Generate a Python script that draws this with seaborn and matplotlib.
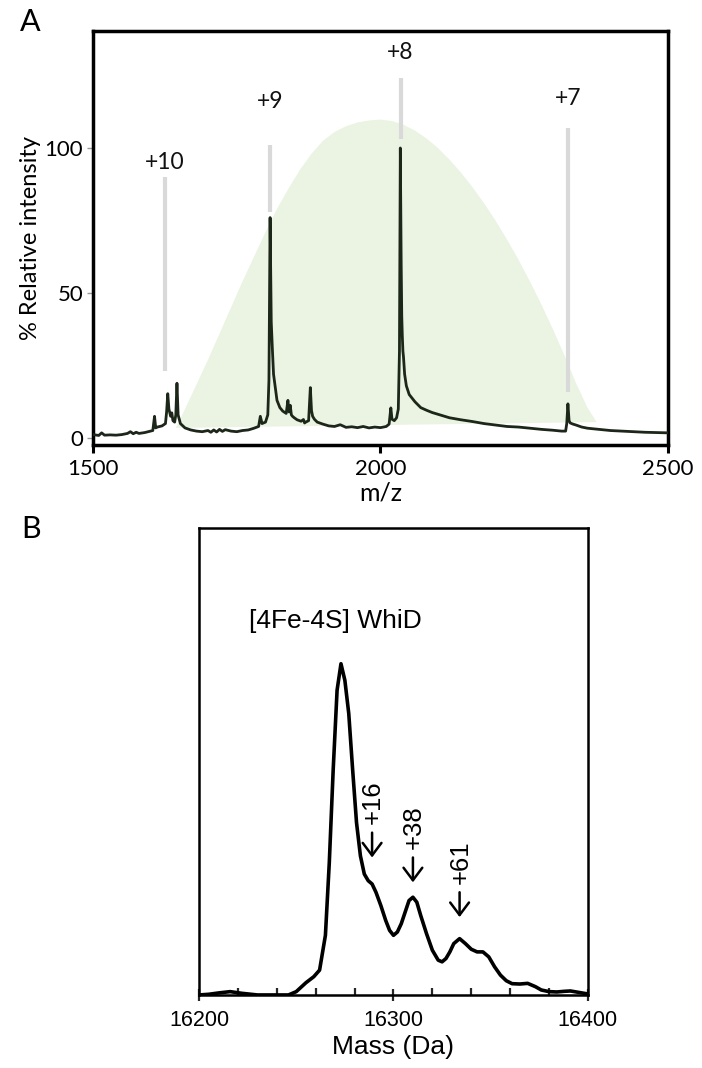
import numpy as np
import pandas as pd
import matplotlib
matplotlib.use("Agg")
import matplotlib.pyplot as plt
import seaborn as sns

# ---------------- Panel A data ----------------
mz = [1500, 1510, 1515, 1520, 1530, 1540, 1550, 1560, 1565, 1570, 1575, 1580, 1590, 1600, 1604,
      1607, 1609, 1612, 1620, 1626, 1628, 1630, 1632, 1635, 1637, 1639, 1642, 1644, 1646, 1648,
      1652, 1660, 1670, 1680, 1690, 1700, 1705, 1710, 1715, 1720, 1725, 1730, 1740, 1750, 1760,
      1770, 1780, 1788, 1791, 1794, 1800, 1804, 1806, 1808, 1810, 1812, 1814, 1816, 1820, 1825,
      1830, 1836, 1839, 1841, 1843, 1845, 1847, 1850, 1855, 1862, 1866, 1868, 1870, 1875, 1878,
      1880, 1882, 1885, 1890, 1900, 1910, 1920, 1930, 1940, 1950, 1960, 1970, 1980, 1990, 2000,
      2010, 2015, 2018, 2020, 2024, 2028, 2031, 2033, 2034.5, 2036, 2037, 2038, 2039, 2040, 2042,
      2045, 2050, 2060, 2070, 2080, 2090, 2100, 2110, 2120, 2140, 2160, 2180, 2200, 2220, 2240,
      2260, 2280, 2300, 2315, 2322, 2324, 2326, 2328, 2330, 2335, 2340, 2350, 2360, 2380, 2400,
      2430, 2460, 2500]
intensity = [1.2, 0.9, 1.8, 1.0, 1.1, 1.0, 1.2, 1.6, 2.2, 1.5, 2.0, 1.6, 1.9, 2.4, 2.6,
             7.5, 3.5, 3.8, 4.2, 5.0, 9.0, 15.3, 10.0, 7.5, 8.7, 6.0, 5.5, 8.0, 18.9, 8.0,
             5.0, 3.5, 2.8, 2.4, 2.2, 2.6, 2.0, 2.8, 2.1, 3.0, 2.3, 2.9, 2.4, 2.2, 2.6,
             2.8, 3.4, 4.0, 7.5, 5.0, 5.5, 8.0, 20.0, 76.0, 40.0, 30.5, 22.0, 19.0, 13.0, 10.5,
             9.3, 8.5, 13.0, 9.0, 11.3, 8.0, 7.5, 7.0, 6.3, 5.8, 6.4, 5.2, 5.5, 6.0, 17.4,
             9.5, 7.5, 6.5, 5.5, 4.8, 4.2, 4.0, 4.6, 3.7, 3.9, 3.6, 4.0, 3.5, 3.8, 3.6,
             4.0, 4.8, 10.4, 6.5, 6.0, 7.0, 10.0, 30.0, 100.0, 60.0, 42.0, 35.0, 30.0, 28.0, 22.0,
             18.0, 15.0, 12.5, 10.5, 9.6, 8.8, 8.2, 7.6, 7.0, 6.3, 5.7, 5.0, 4.5, 4.0, 3.8,
             3.4, 3.0, 2.7, 2.4, 2.4, 5.0, 11.8, 6.0, 5.2, 4.8, 4.5, 3.8, 3.4, 3.0, 2.6,
             2.3, 2.0, 1.8]

# charge-state envelope (shaded)
env_mz = [1644, 1660, 1680, 1700, 1720, 1740, 1760, 1780, 1800, 1820, 1840, 1860, 1880, 1900,
          1920, 1940, 1960, 1980, 2000, 2020, 2040, 2060, 2080, 2100, 2120, 2140, 2160, 2180,
          2200, 2220, 2240, 2260, 2280, 2300, 2320, 2340, 2360, 2376]
env_int = [3.5, 10, 18.5, 27, 36, 45, 54, 62.5, 71, 79, 86, 92.5, 98, 102.5,
           105.5, 107.5, 108.8, 109.5, 109.8, 109.3, 108, 106, 103.3, 100, 96, 91.5, 86.5, 81,
           75, 68.5, 61.5, 54, 46, 37.5, 28.5, 19, 10.5, 5.5]

charge_labels = ["+10", "+9", "+8", "+7"]
charge_mz = [1625, 1808, 2035, 2326]
charge_line_lo = [23, 78, 103, 16]
charge_line_hi = [90, 101, 124, 107]
charge_text_y = [95, 116, 133, 117]

# ---------------- Panel B data ----------------
mass = [16200, 16205, 16210, 16216, 16222, 16230, 16246, 16250, 16255, 16259, 16262, 16265,
        16267, 16269, 16271, 16273, 16275, 16277, 16279, 16281, 16283, 16285, 16287, 16289,
        16291, 16293.5, 16296, 16298, 16300, 16302, 16304, 16306, 16308, 16310, 16312, 16314,
        16317, 16320, 16323, 16325, 16327, 16329, 16331, 16334, 16337, 16340, 16343, 16346,
        16349, 16352, 16355, 16358, 16361, 16365, 16369, 16373, 16376, 16380, 16384, 16388,
        16391, 16395, 16400]
rel = [0, 0.2, 0.6, 1.0, 0.5, 0, 0, 1.0, 3.7, 5.5, 7.5, 18,
       40, 68, 92, 100, 95, 85, 68, 52, 42, 36.5, 34.5, 33.5,
       31, 27, 22.5, 19.5, 18, 19, 21.5, 25, 28.5, 29.5, 28, 24,
       18.5, 13.5, 10.5, 10, 11, 13, 15.5, 17, 15.5, 13.8, 13, 13,
       11.5, 8.5, 6, 4.3, 3.4, 3.3, 3.5, 2.5, 1.5, 1.0, 0.9, 1.1,
       1.2, 0.8, 0.3]

adduct_labels = ["+16", "+38", "+61"]
adduct_mass = [16289, 16310, 16334]
adduct_tip = [41.5, 34, 23.5]

# ---------------- Figure ----------------
sns.set_theme(style="ticks")
plt.rcParams["font.family"] = ["Lato", "DejaVu Sans"]
plt.rcParams["text.color"] = "black"
plt.rcParams["axes.labelcolor"] = "black"
plt.rcParams["xtick.labelcolor"] = "black"
plt.rcParams["ytick.labelcolor"] = "black"
ARIAL = ["Liberation Sans", "DejaVu Sans"]
fig = plt.figure(figsize=(7.02, 10.68), dpi=100)

axA = fig.add_axes([0.1325, 0.5833, 0.819, 0.3876])
axA.fill(env_mz, env_int, color="#ebf4e3", lw=0, zorder=0)
for lab, x, lo, hi, ty in zip(charge_labels, charge_mz, charge_line_lo, charge_line_hi, charge_text_y):
    axA.plot([x, x], [lo, hi], color="#d9d9d9", lw=3, zorder=1, solid_capstyle="butt")
    axA.text(x, ty, lab, ha="center", va="center", fontsize=16.5, color="#111111")
dfA = pd.DataFrame({"mz": mz, "intensity": intensity})
sns.lineplot(data=dfA, x="mz", y="intensity", ax=axA, color="#1c2619", lw=2.0,
             sort=False, estimator=None, zorder=3)
axA.set_xlim(1500, 2500)
axA.set_ylim(-2.4, 140.3)
axA.set_xticks([1500, 2000, 2500])
axA.set_yticks([0, 50, 100])
axA.tick_params(axis="x", labelsize=16, direction="out", length=6, width=2.2, color="black", pad=4)
axA.tick_params(axis="y", labelsize=16, direction="out", length=4, width=1.0, color="#999999", pad=3)
axA.set_xlabel("m/z", fontsize=18, labelpad=2)
axA.set_ylabel("% Relative intensity", fontsize=17, labelpad=3)
for s in axA.spines.values():
    s.set_linewidth(2.5)
    s.set_color("black")
fig.text(0.028, 0.979, "A", fontsize=22, ha="left", va="center")

axB = fig.add_axes([0.2835, 0.0684, 0.554, 0.4373])
dfB = pd.DataFrame({"mass": mass, "rel": rel})
sns.lineplot(data=dfB, x="mass", y="rel", ax=axB, color="black", lw=2.6,
             sort=False, estimator=None)
axB.set_xlim(16200, 16400)
axB.set_ylim(0, 141)
axB.set_xticks([16200, 16300, 16400])
axB.set_xticks(np.arange(16220, 16400, 20), minor=True)
axB.set_yticks([])
axB.tick_params(axis="x", which="major", direction="inout", length=9, width=1.6,
                labelsize=15.5, pad=6)
axB.tick_params(axis="x", which="minor", direction="in", length=5, width=1.6)
for lab in axB.get_xticklabels():
    lab.set_fontfamily(ARIAL)
axB.set_xlabel("Mass (Da)", fontsize=19, family=ARIAL, labelpad=3)
axB.set_ylabel("")
for s in axB.spines.values():
    s.set_linewidth(1.8)
    s.set_color("black")
axB.text(16270, 113, "[4Fe-4S] WhiD", ha="center", va="center", fontsize=19, family=ARIAL)
for lab, x, tip in zip(adduct_labels, adduct_mass, adduct_tip):
    axB.annotate("", xy=(x, tip), xytext=(x, tip + 7.5),
                 arrowprops=dict(arrowstyle="->,head_length=0.6,head_width=0.45",
                                 lw=1.8, color="black", shrinkA=0, shrinkB=0,
                                 mutation_scale=15))
    axB.text(x + 0.6, tip + 10, lab, rotation=90, ha="center", va="bottom", fontsize=18.5,
             family=ARIAL)
fig.text(0.03, 0.505, "B", fontsize=22, ha="left", va="center")

fig.savefig("out.png", dpi=100)
